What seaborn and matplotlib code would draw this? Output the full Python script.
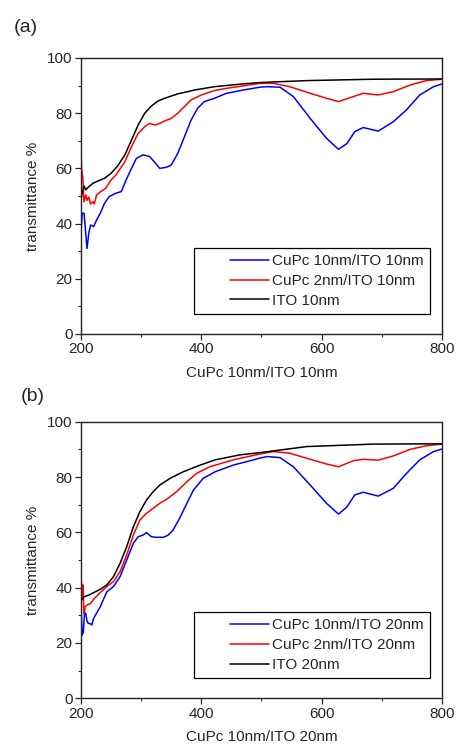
import numpy as np
import pandas as pd
import seaborn as sns
import matplotlib
matplotlib.use("Agg")
import matplotlib.pyplot as plt
from matplotlib.ticker import MultipleLocator
from matplotlib.lines import Line2D
from matplotlib.legend_handler import HandlerLine2D

# ---------------- data ----------------
# panel (a)
a_blue_wl = [200, 202, 205, 207, 210, 213, 216, 221, 226, 232, 239, 247, 258, 267, 275, 284,
             292, 303, 314, 323, 331, 342, 350, 361, 372, 383, 394, 405, 422, 442, 470, 497,
             509, 531, 553, 581, 608, 628, 642, 655, 669, 694, 719, 741, 763, 786, 800]
a_blue_t = [36.5, 43.7, 43.8, 38.9, 31, 36.5, 39.5, 38.9, 41.3, 43.7, 47.3, 49.8, 51, 51.6, 55.8, 60,
            63.6, 64.9, 64.3, 62.1, 60, 60.4, 61.2, 65.5, 71.5, 77.5, 81.8, 84.2, 85.4, 87.2, 88.4, 89.4,
            89.6, 89.4, 86, 78.1, 70.9, 66.9, 69, 73.3, 74.8, 73.5, 76.9, 81.2, 86.6, 89.6, 90.6]

a_red_wl = [200, 201, 202, 203, 205, 208, 210, 213, 216, 220, 222, 226, 233, 241, 250, 258,
            273, 284, 295, 306, 314, 323, 331, 339, 350, 361, 372, 383, 400, 422, 442, 470,
            497, 520, 547, 581, 608, 628, 647, 669, 694, 719, 747, 774, 800]
a_red_t = [67.9, 60, 58.2, 57, 47.9, 50.4, 48.4, 49.6, 47.1, 47.9, 47.1, 50.4, 51.6, 52.8, 55.8, 57.6,
           62.4, 67.9, 72.7, 75.1, 76.3, 75.7, 76.3, 77.2, 78.1, 80, 82.4, 84.8, 86.6, 88.2, 89, 89.9,
           90.8, 90.8, 89.6, 87.2, 85.4, 84.2, 85.6, 87.2, 86.6, 87.8, 90.2, 91.8, 92.3]

a_black_wl = [200, 202, 205, 208, 210, 220, 228, 239, 250, 261, 273, 284, 295, 306, 317, 328,
              339, 361, 389, 422, 464, 497, 575, 686, 800]
a_black_t = [48.6, 51, 53.6, 52.2, 52.8, 54.6, 55.4, 56.4, 58.2, 60.9, 64.9, 70.3, 75.7, 80, 82.6, 84.4,
             85.4, 87, 88.4, 89.6, 90.5, 91.1, 91.8, 92.3, 92.4]

# panel (b)
b_blue_wl = [200, 201, 202, 204, 205, 206, 208, 210, 212, 215, 218, 221, 232, 243, 254, 265,
             276, 287, 295, 303, 309, 317, 325, 337, 345, 353, 364, 376, 387, 403, 423, 453,
             497, 509, 531, 553, 581, 608, 628, 642, 655, 669, 694, 719, 741, 763, 786, 800]
b_blue_t = [35.5, 28, 22.9, 24, 28, 31, 30.5, 28, 27.1, 27, 26.5, 28.9, 33.1, 38.5, 40.4, 44,
            50, 56, 58.4, 59, 59.9, 58.4, 58.2, 58.2, 59, 60.8, 65.1, 70.5, 75.3, 79.5, 81.9, 84.3,
            86.8, 87.4, 87, 83.7, 77.1, 70.5, 66.6, 69.2, 73.5, 74.5, 73.1, 75.9, 81.3, 86.2, 89.2, 90.1]

b_red_wl = [200, 201, 202, 203, 205, 207, 210, 216, 221, 232, 243, 254, 265, 276, 287, 298,
            309, 320, 331, 342, 359, 376, 392, 414, 453, 497, 520, 547, 581, 608, 628, 653,
            669, 694, 719, 747, 774, 800]
b_red_t = [44, 40.5, 37, 41, 30.7, 33, 33.7, 34.3, 35.8, 38.2, 40.4, 42.2, 45.8, 51.8, 59, 64.5,
           66.9, 68.7, 70.5, 71.9, 74.7, 78.3, 81.3, 83.7, 86.2, 88.3, 89.2, 88.6, 86.4, 84.7, 83.7, 85.9,
           86.4, 86.1, 87.6, 90, 91.3, 91.9]

b_black_wl = [200, 205, 213, 221, 232, 243, 254, 265, 276, 287, 298, 309, 320, 331, 348, 370,
              398, 423, 464, 497, 575, 686, 800]
b_black_t = [35.2, 36.7, 37.3, 38.2, 39.4, 41, 44, 48.8, 54.8, 62, 67.5, 71.7, 74.7, 77.1, 79.5, 81.9,
             84.3, 86.2, 88, 88.8, 91, 91.9, 92]

labels_a = ["CuPc 10nm/ITO 10nm", "CuPc 2nm/ITO 10nm", "ITO 10nm"]
labels_b = ["CuPc 10nm/ITO 20nm", "CuPc 2nm/ITO 20nm", "ITO 20nm"]
colors = ["#0000ff", "#ff0000", "#000000"]


def make_df(series, labels):
    frames = []
    for (wl, t), lab in zip(series, labels):
        frames.append(pd.DataFrame({"wavelength": wl, "transmittance": t, "sample": lab}))
    return pd.concat(frames, ignore_index=True)


df_a = make_df([(a_blue_wl, a_blue_t), (a_red_wl, a_red_t), (a_black_wl, a_black_t)], labels_a)
df_b = make_df([(b_blue_wl, b_blue_t), (b_red_wl, b_red_t), (b_black_wl, b_black_t)], labels_b)

# ---------------- plotting ----------------
sns.set_theme(style="ticks")
plt.rcParams["font.family"] = ["Liberation Sans", "DejaVu Sans"]
plt.rcParams["axes.linewidth"] = 1.0

fig = plt.figure(figsize=(4.57, 7.49), dpi=100)
ax_a = fig.add_axes([0.1772, 0.5541, 0.790, 0.3685])
ax_b = fig.add_axes([0.1772, 0.0677, 0.790, 0.3693])

panels = [(ax_a, df_a, labels_a, "CuPc 10nm/ITO 10nm", "(a)", 0.03, 0.963),
          (ax_b, df_b, labels_b, "CuPc 10nm/ITO 20nm", "(b)", 0.045, 0.471)]

fs = 11
for ax, df, labs, xlab, tag, tx, ty in panels:
    sns.lineplot(data=df, x="wavelength", y="transmittance", hue="sample",
                 hue_order=labs, palette=colors, estimator=None, linewidth=1.1, ax=ax)

    ax.set_xlim(200, 800)
    ax.set_ylim(0, 100)
    ax.xaxis.set_major_locator(MultipleLocator(200))
    ax.xaxis.set_minor_locator(MultipleLocator(100))
    ax.yaxis.set_major_locator(MultipleLocator(20))
    ax.yaxis.set_minor_locator(MultipleLocator(10))
    ax.tick_params(which="major", direction="out", length=4, width=0.9, labelsize=fs, pad=2)
    ax.tick_params(which="minor", direction="out", length=2.5, width=0.8)
    ax.set_xlabel(xlab, fontsize=fs, labelpad=7)
    ax.set_ylabel("transmittance %", fontsize=fs, labelpad=5)
    for s in ax.spines.values():
        s.set_color("#222222")

    # legend: blank gap left of the short line, like the original
    handles, labels = ax.get_legend_handles_labels()
    leg = ax.legend(handles, labels, loc="lower right", bbox_to_anchor=(0.967, 0.072),
                    borderaxespad=0, fontsize=fs, handlelength=4.5, handletextpad=0.2,
                    labelspacing=0.38, borderpad=0.42, fancybox=False, framealpha=1,
                    edgecolor="black", handler_map={Line2D: HandlerLine2D(xpad=1.95)})
    leg.get_frame().set_linewidth(0.9)

    fig.text(tx, ty, tag, fontsize=14, va="center", ha="left")

fig.savefig("out.png", dpi=100)
